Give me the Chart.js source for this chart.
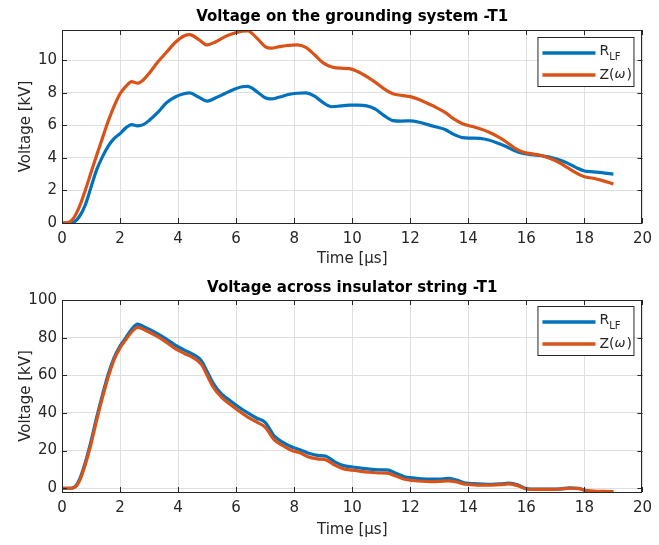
<!DOCTYPE html>
<html>
<head>
<meta charset="utf-8">
<script src="https://cdn.jsdelivr.net/npm/chart.js@4/dist/chart.umd.min.js"></script>
<style>
  html, body { margin: 0; padding: 0; background: #fff; }
  canvas { display: block; }
</style>
</head>
<body>
<canvas id="chartTierra" width="659" height="272"></canvas>
<canvas id="chartAislador" width="659" height="273"></canvas>
<script>
// ---- datos ----
const tiempoTierra = [0, 0.2, 0.4, 0.6, 0.8, 1.0, 1.2, 1.4, 1.6, 1.8, 2.0, 2.2, 2.4, 2.6, 2.8, 3.0, 3.3, 3.6, 3.9, 4.2, 4.4, 4.7, 5.0, 5.3, 5.6, 5.9, 6.2, 6.4, 6.7, 7.0, 7.2, 7.5, 7.8, 8.1, 8.4, 8.7, 9.0, 9.3, 9.6, 9.9, 10.2, 10.5, 10.8, 11.1, 11.4, 11.7, 12.0, 12.3, 12.6, 12.9, 13.2, 13.5, 13.8, 14.1, 14.4, 14.7, 15.0, 15.3, 15.6, 15.9, 16.2, 16.5, 16.8, 17.1, 17.4, 17.7, 18.0, 18.3, 18.6, 19.0];
const rlfTierra = [0, 0, 0.05, 0.4, 1.1, 2.2, 3.3, 4.1, 4.75, 5.2, 5.5, 5.85, 6.05, 5.97, 6.05, 6.3, 6.8, 7.4, 7.75, 7.95, 8.0, 7.75, 7.5, 7.7, 7.95, 8.2, 8.38, 8.4, 8.1, 7.7, 7.63, 7.75, 7.9, 7.98, 8.0, 7.8, 7.4, 7.15, 7.2, 7.25, 7.25, 7.2, 7.0, 6.6, 6.3, 6.27, 6.28, 6.2, 6.05, 5.9, 5.75, 5.45, 5.25, 5.22, 5.2, 5.1, 4.92, 4.7, 4.45, 4.28, 4.2, 4.15, 4.05, 3.9, 3.7, 3.42, 3.2, 3.15, 3.1, 3.0];
const zwTierra = [0, 0.02, 0.3, 1.0, 2.0, 3.1, 4.2, 5.25, 6.3, 7.2, 7.95, 8.4, 8.7, 8.6, 8.8, 9.2, 9.9, 10.5, 11.1, 11.5, 11.58, 11.3, 10.95, 11.15, 11.45, 11.65, 11.8, 11.82, 11.4, 10.85, 10.75, 10.85, 10.93, 10.95, 10.8, 10.35, 9.85, 9.6, 9.52, 9.5, 9.3, 9.0, 8.65, 8.25, 7.95, 7.85, 7.77, 7.6, 7.35, 7.1, 6.8, 6.4, 6.1, 5.95, 5.8, 5.6, 5.33, 5.0, 4.6, 4.35, 4.25, 4.15, 3.98, 3.75, 3.42, 3.1, 2.85, 2.75, 2.62, 2.4];

const tiempoAislador = [0, 0.3, 0.45, 0.6, 0.8, 1.0, 1.2, 1.4, 1.6, 1.8, 2.0, 2.2, 2.4, 2.6, 2.8, 3.0, 3.3, 3.6, 3.9, 4.2, 4.5, 4.8, 5.0, 5.2, 5.5, 5.8, 6.1, 6.4, 6.7, 7.0, 7.3, 7.6, 7.9, 8.2, 8.5, 8.8, 9.1, 9.4, 9.7, 10.0, 10.3, 10.6, 10.9, 11.2, 11.5, 11.8, 12.1, 12.4, 12.7, 13.0, 13.3, 13.6, 13.9, 14.2, 14.5, 14.8, 15.1, 15.4, 15.7, 16.0, 16.3, 16.6, 16.9, 17.2, 17.5, 17.8, 18.1, 18.4, 18.7, 19.0];
const rlfAislador = [0, 0, 0.8, 4.5, 13.5, 25, 38, 50, 61, 69.5, 75.5, 80, 84.5, 87.2, 86, 84.5, 82, 79.2, 76, 73.5, 71.3, 67.8, 62, 56, 50, 46.5, 43, 40, 37.3, 35, 28, 24.5, 22, 20.5, 18.6, 17.5, 17, 14, 12, 11.3, 10.7, 10.2, 9.8, 9.8, 8, 6.1, 5.5, 5.0, 4.8, 4.8, 5.2, 4.3, 2.8, 2.4, 2.2, 2.1, 2.3, 2.7, 1.8, -0.2, -0.5, -0.5, -0.5, -0.3, 0.2, 0, -1.5, -1.9, -2.0, -2.1];
const zwAislador = [0, 0, 0.6, 3.8, 12.5, 23.5, 36.5, 48.5, 59.5, 68.5, 74.5, 79, 83, 85.5, 84.5, 83, 80.5, 77.5, 74.2, 71.7, 69.5, 65.8, 60, 54, 48.3, 44.5, 41, 37.8, 35.2, 32.5, 26, 22.7, 20.2, 18.8, 16.6, 15.6, 15, 12.3, 10.3, 9.6, 9.0, 8.5, 8.1, 8.0, 6.5, 4.8, 4.1, 3.7, 3.5, 3.6, 3.9, 3.3, 2.1, 1.8, 1.7, 1.7, 1.9, 2.3, 1.4, -0.4, -0.6, -0.6, -0.6, -0.4, 0.0, -0.2, -1.3, -1.6, -1.7, -1.8];

const AZUL = '#0072BD';
const NARANJA = '#D95319';
const GRIS = '#262626';
const FUENTE = "'DejaVu Sans', sans-serif";

function puntos(xs, ys) {
    return xs.map((x, i) => ({ x: x, y: ys[i] }));
}

// título, caja, marcas interiores y leyenda al estilo MATLAB
const marcoMatlab = {
    id: 'marcoMatlab',
    afterDraw(chart, args, opts) {
        const { ctx, chartArea: a, scales } = chart;
        ctx.save();

        // título centrado sobre el área de trazado
        ctx.fillStyle = '#000';
        ctx.font = 'bold 15px ' + FUENTE;
        ctx.textAlign = 'center';
        ctx.textBaseline = 'middle';
        ctx.fillText(opts.titulo, (a.left + a.right) / 2, opts.tituloY);

        ctx.strokeStyle = GRIS;
        ctx.lineWidth = 1;
        ctx.strokeRect(Math.round(a.left) + 0.5, Math.round(a.top) + 0.5,
                       Math.round(a.right - a.left) - 1, Math.round(a.bottom - a.top));
        ctx.beginPath();
        scales.x.ticks.forEach(t => {
            const px = Math.round(scales.x.getPixelForValue(t.value)) + 0.5;
            ctx.moveTo(px, a.bottom); ctx.lineTo(px, a.bottom - 5);
            ctx.moveTo(px, a.top); ctx.lineTo(px, a.top + 5);
        });
        scales.y.ticks.forEach(t => {
            const py = Math.round(scales.y.getPixelForValue(t.value)) + 0.5;
            ctx.moveTo(a.left, py); ctx.lineTo(a.left + 5, py);
            ctx.moveTo(a.right, py); ctx.lineTo(a.right - 5, py);
        });
        ctx.stroke();

        // leyenda
        const lx = a.right - 105, ly = a.top + opts.dy, lw = 96, lh = 49;
        ctx.fillStyle = '#fff';
        ctx.fillRect(lx, ly, lw, lh);
        ctx.strokeRect(lx + 0.5, ly + 0.5, lw, lh);
        const filas = [ly + 16, ly + 38];
        chart.data.datasets.forEach((ds, i) => {
            ctx.strokeStyle = ds.borderColor;
            ctx.lineWidth = 3.5;
            ctx.beginPath();
            ctx.moveTo(lx + 5, filas[i]);
            ctx.lineTo(lx + 58, filas[i]);
            ctx.stroke();
        });
        ctx.fillStyle = GRIS;
        ctx.textBaseline = 'middle';
        ctx.textAlign = 'left';
        ctx.font = '14px ' + FUENTE;
        ctx.fillText('R', lx + 62, filas[0] - 2);
        const wR = ctx.measureText('R').width;
        ctx.font = '10px ' + FUENTE;
        ctx.fillText('LF', lx + 62 + wR, filas[0] + 4);
        ctx.font = '14px ' + FUENTE;
        ctx.fillText('Z(', lx + 62, filas[1]);
        const wZ = ctx.measureText('Z(').width;
        ctx.font = 'italic 13px ' + FUENTE;
        ctx.fillText('\u03C9', lx + 62 + wZ, filas[1]);
        const wW = ctx.measureText('\u03C9').width;
        ctx.font = '14px ' + FUENTE;
        ctx.fillText(')', lx + 62 + wZ + wW + 1, filas[1]);
        ctx.restore();
    }
};

function crearGrafica(id, titulo, tiempo, rlf, zw, yMin, yMax, yPaso, cfg) {
    return new Chart(document.getElementById(id), {
        type: 'line',
        data: {
            datasets: [
                { label: 'RLF', data: puntos(tiempo, rlf), borderColor: AZUL, order: 1 },
                { label: 'Z(w)', data: puntos(tiempo, zw), borderColor: NARANJA, order: 0 }
            ]
        },
        plugins: [marcoMatlab],
        options: {
            responsive: false,
            animation: false,
            devicePixelRatio: 1,
            layout: { padding: { left: 0, right: 12, top: cfg.arriba, bottom: 0 } },
            elements: {
                point: { radius: 0 },
                line: { borderWidth: 3.2, cubicInterpolationMode: 'monotone' }
            },
            plugins: {
                legend: { display: false },
                tooltip: { enabled: false },
                title: { display: false },
                marcoMatlab: { dy: cfg.leyendaDy, titulo: titulo, tituloY: cfg.tituloY }
            },
            scales: {
                x: {
                    type: 'linear',
                    min: 0, max: 20,
                    afterFit: s => { s.height = cfg.altoX; },
                    ticks: { stepSize: 2, color: GRIS, padding: 7, maxRotation: 0,
                             font: { family: FUENTE, size: 15 } },
                    grid: { color: '#dfdfdf', drawTicks: false },
                    border: { display: false },
                    title: { display: true, text: 'Time [\u03BCs]', color: GRIS,
                             font: { family: FUENTE, size: 15 },
                             padding: { top: 0, bottom: cfg.tituloX } }
                },
                y: {
                    min: yMin, max: yMax,
                    afterFit: s => { s.width = 62; },
                    ticks: { stepSize: yPaso, includeBounds: false, color: GRIS, padding: 5,
                             font: { family: FUENTE, size: 15 } },
                    grid: { color: '#dfdfdf', drawTicks: false },
                    border: { display: false },
                    title: { display: true, text: 'Voltage [kV]', color: GRIS,
                             font: { family: FUENTE, size: 15 },
                             padding: { top: 17, bottom: 0 } }
                }
            }
        }
    });
}

crearGrafica('chartTierra', 'Voltage on the grounding system -T1',
    tiempoTierra, rlfTierra, zwTierra, 0, 11.87, 2,
    { arriba: 30, tituloY: 17, altoX: 49, tituloX: 4, leyendaDy: 7 });

crearGrafica('chartAislador', 'Voltage across insulator string -T1',
    tiempoAislador, rlfAislador, zwAislador, -2, 100, 20,
    { arriba: 28, tituloY: 16, altoX: 53, tituloX: 6, leyendaDy: 6 });
</script>
</body>
</html>
